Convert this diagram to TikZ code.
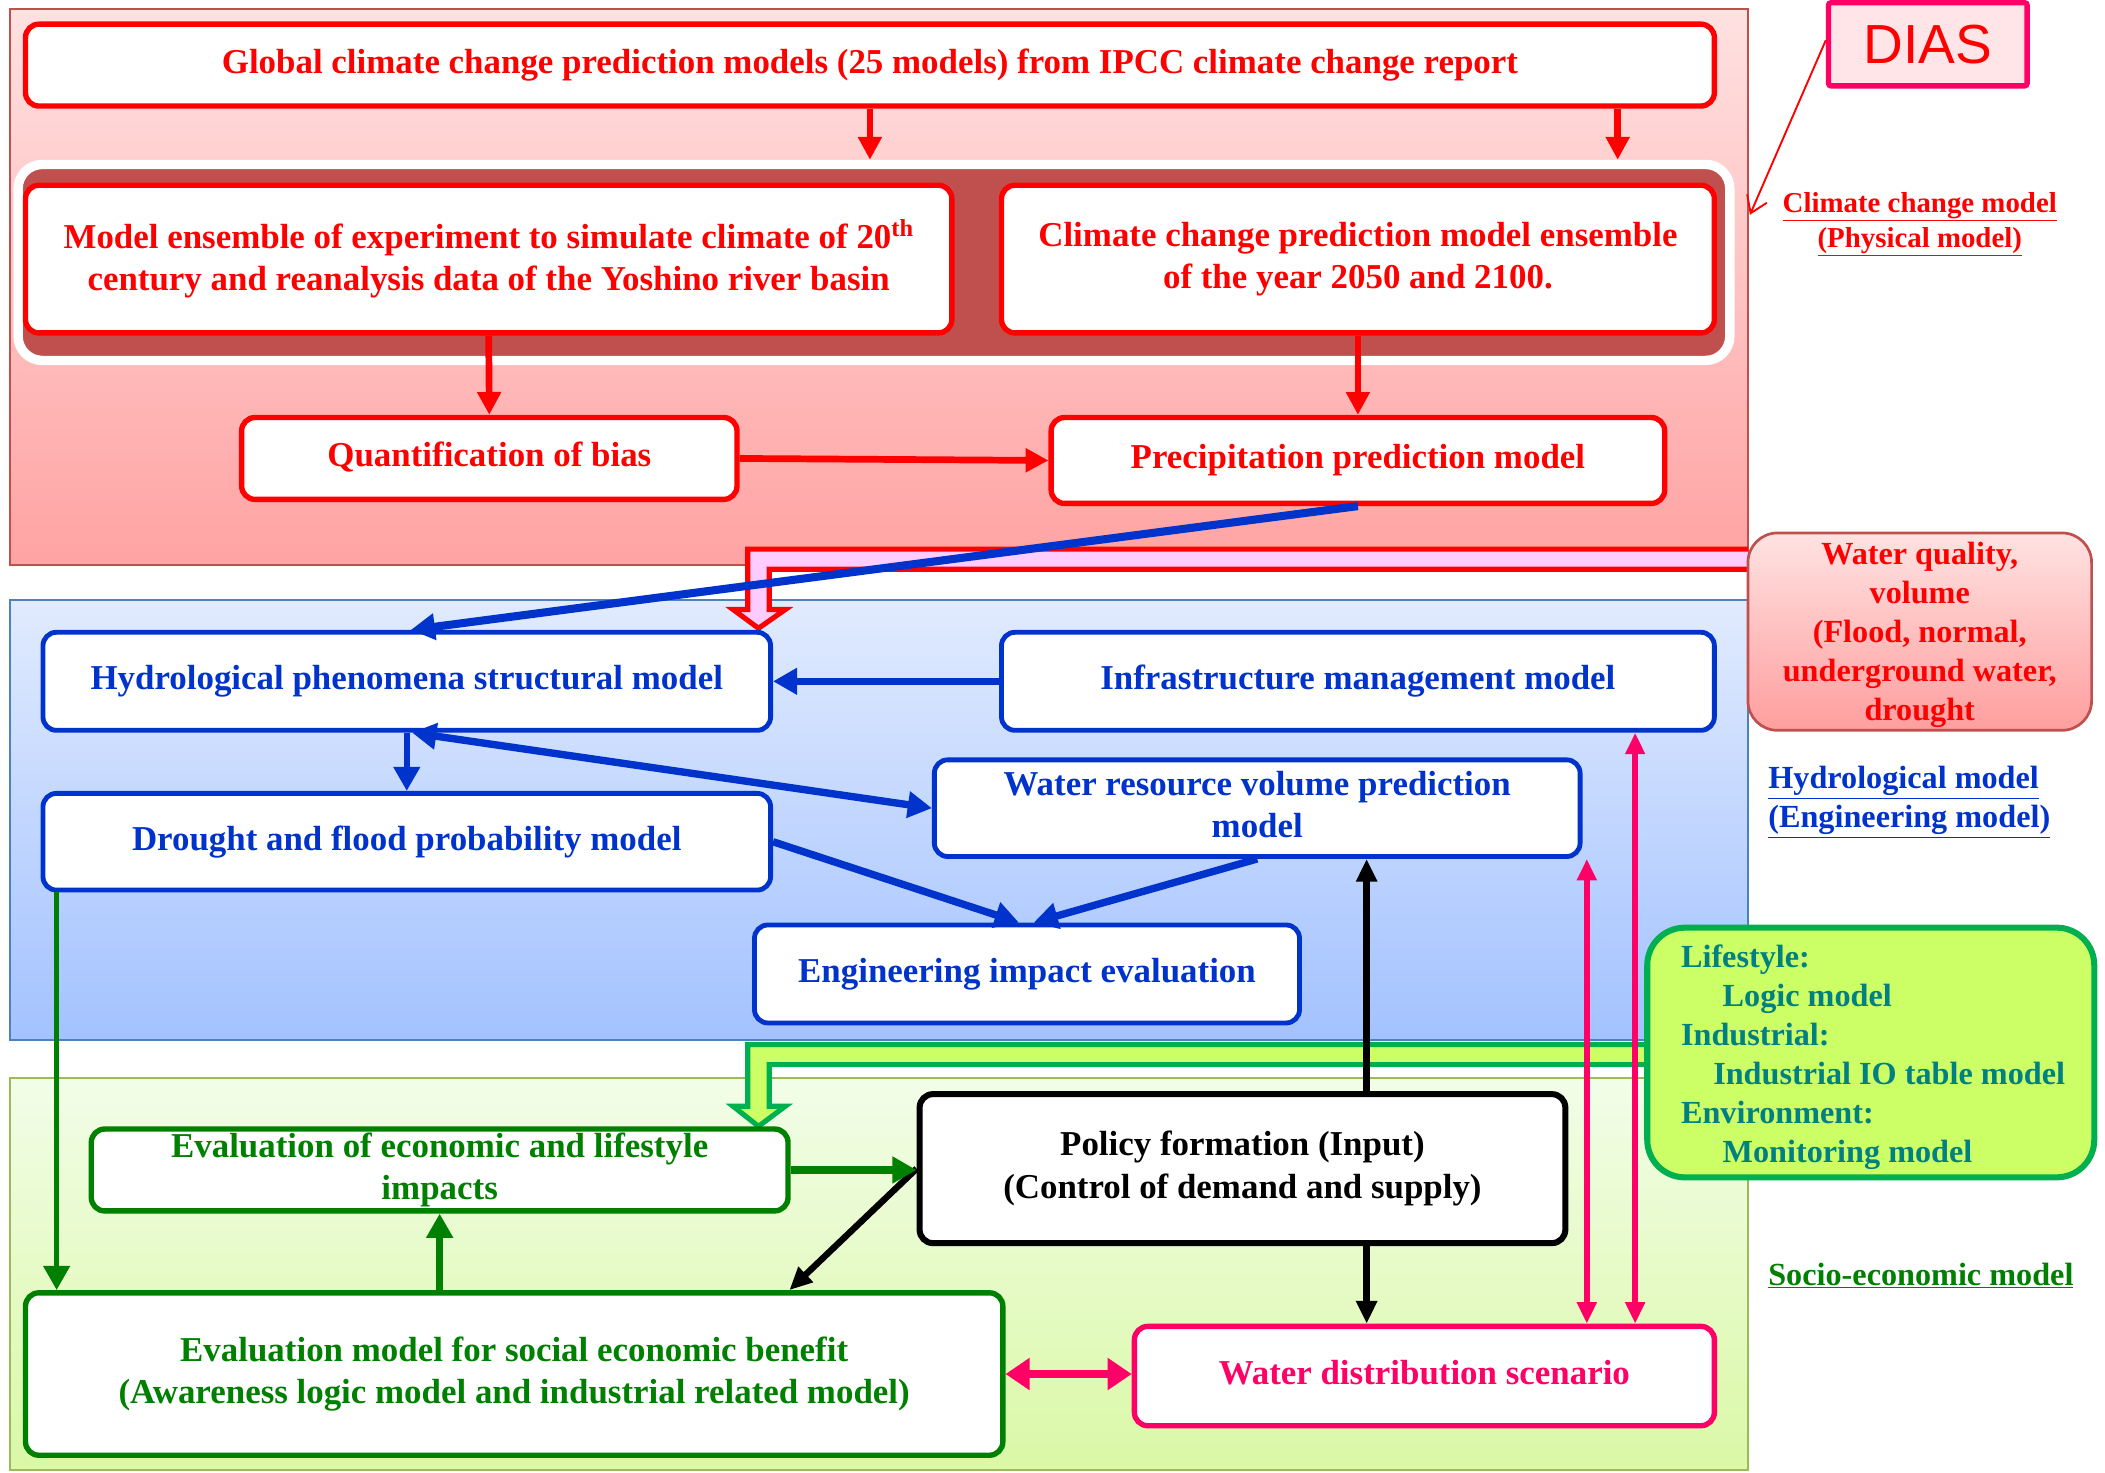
\documentclass[tikz,border=0pt]{standalone}
\usepackage{fontspec}
\setmainfont{Liberation Serif}
\newfontfamily\diasfont{Liberation Sans}
\usetikzlibrary{arrows.meta,calc}

\definecolor{cred}{RGB}{255,0,0}
\definecolor{cblue}{RGB}{0,51,204}
\definecolor{cgreen}{RGB}{0,128,0}
\definecolor{cpink}{RGB}{255,0,102}
\definecolor{cteal}{RGB}{0,128,128}
\definecolor{pnlred}{RGB}{192,80,77}
\definecolor{pnlblue}{RGB}{79,129,189}
\definecolor{pnlgreen}{RGB}{155,187,89}
\definecolor{redtop}{RGB}{255,225,225}
\definecolor{redbot}{RGB}{255,163,163}
\definecolor{bluetop}{RGB}{225,235,254}
\definecolor{bluebot}{RGB}{163,194,255}
\definecolor{greentop}{RGB}{242,253,232}
\definecolor{greenbot}{RGB}{218,248,166}
\definecolor{wqtop}{RGB}{255,226,226}
\definecolor{wqbot}{RGB}{255,158,158}
\definecolor{limefill}{RGB}{204,255,102}
\definecolor{limeedge}{RGB}{0,176,80}
\definecolor{bandpink}{RGB}{255,204,255}
\definecolor{diasfill}{RGB}{255,228,232}

\newcommand\boxfont{\fontsize{26}{31.5}\selectfont\bfseries}
\newcommand\sidefont{\fontsize{21.5}{26}\selectfont\bfseries}
\newcommand\notefont{\fontsize{24}{29}\selectfont\bfseries}
\newcommand\boxstrut{\rule[-6pt]{0pt}{24pt}}

\begin{document}
\begin{tikzpicture}[x=1pt,y=-1pt,
  panel/.style={line width=1.5, inner sep=0pt, anchor=north west},
  mbox/.style={draw, fill=white, rounded corners=10, line width=4,
    align=center, inner sep=0pt, font=\boxfont,
    execute at begin node=\boxstrut, execute at end node=\boxstrut},
  redbox/.style={mbox, draw=cred, text=cred},
  bluebox/.style={mbox, draw=cblue, text=cblue, line width=3.6},
  greenbox/.style={mbox, draw=cgreen, text=cgreen},
  redarr/.style={cred, line width=5, -{Triangle[length=17pt,width=17pt]}},
  bluearr/.style={cblue, line width=5.5, -{Triangle[length=18pt,width=19pt]}},
  bluedbl/.style={cblue, line width=5.5,
    {Triangle[length=18pt,width=19pt]}-{Triangle[length=18pt,width=19pt]}},
  blkarr/.style={black, line width=4.8, -{Triangle[length=17pt,width=15pt]}},
  grnarr/.style={cgreen, line width=5.5, -{Triangle[length=18pt,width=19pt]}},
  pinkdbl/.style={cpink, line width=4.2,
    {Triangle[length=16pt,width=14pt]}-{Triangle[length=16pt,width=14pt]}},
  pinkfat/.style={cpink, line width=6.5,
    {Triangle[length=18pt,width=23pt]}-{Triangle[length=18pt,width=23pt]}},
]
\useasboundingbox (0,0) rectangle (1568,1096.5);

% model layers
\node[panel, draw=pnlred, top color=redtop, bottom color=redbot,
  minimum width=1294, minimum height=414] (climpanel) at (7,6) {};
\node[panel, draw=pnlblue, top color=bluetop, bottom color=bluebot,
  minimum width=1294, minimum height=328] (hydpanel) at (7,446) {};
\node[panel, draw=pnlgreen, top color=greentop, bottom color=greenbot,
  minimum width=1294, minimum height=292] (socpanel) at (7,802) {};

% ensemble band
\node[draw=white, line width=7, fill=pnlred, rounded corners=18,
  minimum width=1275, minimum height=146, inner sep=0pt] (ens) at (651,195.5) {};

% hollow arrow: water quality -> hydrological model
\fill[bandpink] (1302,409) -- (557,409) -- (557,454) -- (546,454) -- (565,468)
  -- (585,454) -- (573,454) -- (573,424) -- (1302,424) -- cycle;
\draw[cred, line width=3.8, line join=miter] (1302,409) -- (557,409) -- (557,454)
  -- (546,454) -- (565,468) -- (585,454) -- (573,454) -- (573,424) -- (1302,424);

% hollow arrow: lifestyle -> economic evaluation
\fill[limefill] (1240,778) -- (557,778) -- (557,824) -- (546,824) -- (565,839)
  -- (585,824) -- (573,824) -- (573,793) -- (1240,793) -- cycle;
\draw[limeedge, line width=3.8, line join=miter] (1240,778) -- (557,778) -- (557,824)
  -- (546,824) -- (565,839) -- (585,824) -- (573,824) -- (573,793) -- (1240,793);

% climate change layer
\node[redbox, minimum width=1258, minimum height=61] (gcm) at (648,48.5)
  {Global climate change prediction models (25 models) from IPCC climate change report};
\node[redbox, minimum width=690, minimum height=110] (me) at (364,193)
  {Model ensemble of experiment to simulate climate of 20\textsuperscript{th}\\
   century and reanalysis data of the Yoshino river basin};
\node[redbox, minimum width=531, minimum height=110] (ccp) at (1011.5,193)
  {Climate change prediction model ensemble\\of the year 2050 and 2100.};
\node[redbox, minimum width=369, minimum height=61] (qb) at (364.5,341.5)
  {Quantification of bias};
\node[redbox, minimum width=457, minimum height=64] (pp) at (1011.5,343)
  {Precipitation prediction model};

% hydrological layer
\node[bluebox, minimum width=542, minimum height=73] (hp) at (303,507.5)
  {Hydrological phenomena structural model};
\node[bluebox, minimum width=531, minimum height=73] (im) at (1011.5,507.5)
  {Infrastructure management model};
\node[bluebox, minimum width=481, minimum height=72] (wr) at (936.5,602)
  {Water resource volume prediction\\model};
\node[bluebox, minimum width=542, minimum height=72] (df) at (303,627)
  {Drought and flood probability model};
\node[bluebox, minimum width=406, minimum height=73] (ei) at (765,725.5)
  {Engineering impact evaluation};

% socio-economic layer
\node[greenbox, minimum width=519, minimum height=61] (eco) at (327.5,871.5)
  {Evaluation of economic and lifestyle\\impacts};
\node[mbox, draw=black, line width=4.5, minimum width=481, minimum height=111]
  (pol) at (925.5,870.5)
  {Policy formation (Input)\\(Control of demand and supply)};
\node[greenbox, minimum width=728, minimum height=121] (soc) at (383,1023.5)
  {Evaluation model for social economic benefit\\
   (Awareness logic model and industrial related model)};
\node[mbox, draw=cpink, text=cpink, minimum width=432, minimum height=74] (wd)
  at (1061,1025) {Water distribution scenario};

% side notes
\node[draw=cpink, fill=diasfill, line width=4, rounded corners=2,
  minimum width=148, minimum height=62, inner sep=0pt, text=cred,
  font=\diasfont\fontsize{41}{41}\selectfont] (dias) at (1436,33) {\raisebox{-2pt}{DIAS}};
\node[draw=pnlred, line width=2, rounded corners=22, top color=wqtop,
  bottom color=wqbot, minimum width=256, minimum height=147, inner sep=0pt,
  text=cred, align=center, font=\notefont] (wq) at (1430,470.5)
  {\rule{0pt}{22pt}Water quality,\\volume\\(Flood, normal,\\underground water,\\drought};
\node[draw=limeedge, fill=limefill, line width=4.5, rounded corners=28,
  minimum width=333, minimum height=186, inner sep=0pt] (life) at (1393.5,784) {};
\node[anchor=west, align=left, text=cteal, font=\notefont, inner sep=0pt]
  (lifetext) at (1252,787.5)
  {Lifestyle:\\\hspace*{31pt}Logic model\\Industrial:\\
   \hspace*{24pt}Industrial IO table model\\Environment:\\
   \hspace*{31pt}Monitoring model};

\node[text=cred, font=\sidefont, align=center, inner sep=0pt] (lblclim)
  at (1430,167) {\underline{Climate change model}\\\underline{(Physical model)}};
\node[text=cblue, font=\notefont, align=left, anchor=west, inner sep=0pt] (lblhyd)
  at (1317,597.5) {\underline{Hydrological model}\\\underline{(Engineering model)}};
\node[text=cgreen, font=\notefont, anchor=west, inner sep=0pt] (lblsoc)
  at (1317,950) {\underline{Socio-economic model}};

% DIAS pointer
\draw[cred, line width=1.4, -{Straight Barb[length=12pt,width=16pt]}]
  ([yshift=3]dias.west) -- ($(climpanel.north east)+(1,154)$);

% climate change flow
\draw[redarr] (gcm.south) -- (gcm.south |- ens.north);
\draw[redarr] ([xshift=-74]gcm.south east) -- ([xshift=-74]gcm.south east |- ens.north);
\draw[redarr] (me.south) -- (qb.north);
\draw[redarr] (ccp.south) -- (pp.north);
\draw[redarr] (qb.east) -- (pp.west);

% hydrological flow
\draw[bluearr, line width=6] (pp.south) -- ([xshift=3]hp.north);
\draw[bluearr] (im.west) -- (hp.east);
\draw[bluearr, line width=4.8] (hp.south) -- (df.north);
\draw[bluedbl] ([xshift=4]hp.south) -- (wr.west);
\draw[bluearr] (df.east) -- ([xshift=-6]ei.north);
\draw[bluearr] (wr.south) -- ([xshift=5]ei.north);

% policy links
\draw[blkarr] ([xshift=92.5]pol.north) -- ([xshift=92.5]pol.north |- wr.south);
\draw[blkarr] ([xshift=92.5]pol.south) -- ([xshift=92.5]pol.south |- wd.north);
\draw[blkarr] (pol.west) -- ([xshift=205]soc.north);

% water distribution links
\draw[pinkdbl] ([xshift=121]wd.north) -- ([xshift=121]wd.north |- wr.south);
\draw[pinkdbl] ([xshift=157]wd.north) -- ([xshift=157]wd.north |- im.south);
\draw[pinkfat] (soc.east) -- (soc.east -| wd.west);

% socio-economic flow
\draw[grnarr, line width=4.2] ([xshift=12]df.south west) -- ([xshift=12]df.south west |- soc.north);
\draw[grnarr] (eco.south |- soc.north) -- (eco.south);
\draw[grnarr] (eco.east) -- (eco.east -| pol.west);
\end{tikzpicture}
\end{document}
